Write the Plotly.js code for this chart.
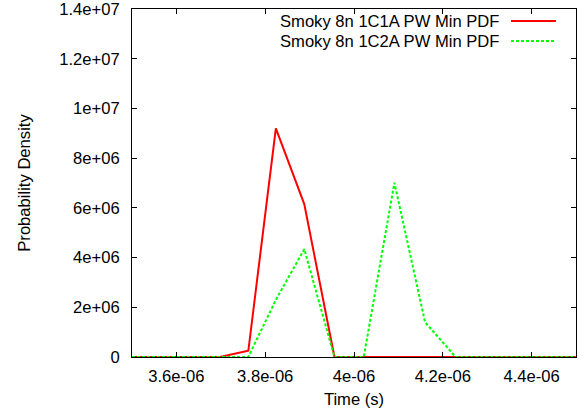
<!DOCTYPE html>
<html>
<head>
<meta charset="utf-8">
<script src="https://cdn.plot.ly/plotly-3.0.1.min.js"></script>
<style>html,body{margin:0;padding:0;background:#fff;}#chart{width:585px;height:416px;}</style>
</head>
<body>
<div id="chart"></div>
<script>
// Series names
var seriesNames = ["Smoky 8n 1C1A PW Min PDF", "Smoky 8n 1C2A PW Min PDF"];
// Red series (1C1A)
var timeA = [3.5e-6, 3.698e-6, 3.762e-6, 3.824e-6, 3.888e-6, 3.956e-6, 4.5e-6];
var densA = [0, 0, 0.25e6, 9.2e6, 6.15e6, 0, 0];
// Green series (1C2A)
var timeB = [3.5e-6, 3.762e-6, 3.824e-6, 3.888e-6, 3.956e-6, 4.022e-6, 4.091e-6, 4.160e-6, 4.229e-6, 4.5e-6];
var densB = [0, 0, 2.3e6, 4.34e6, 0, 0, 7.01e6, 1.4e6, 0, 0];
// Tick labels
var xTickVals = [3.6e-6, 3.8e-6, 4.0e-6, 4.2e-6, 4.4e-6];
var xTickText = ["3.6e-06", "3.8e-06", "4e-06", "4.2e-06", "4.4e-06"];
var yTickVals = [0, 2e6, 4e6, 6e6, 8e6, 10e6, 12e6, 14e6];
var yTickText = ["0", "2e+06", "4e+06", "6e+06", "8e+06", "1e+07", "1.2e+07", "1.4e+07"];

var colors = ["#ff0000", "#00ff00"];
var dashes = ["solid", "3px,2px"];
var font = {family: "Liberation Sans, Arial, sans-serif", size: 16.6, color: "#000"};

var traces = [
  {x: timeA, y: densA, mode: "lines", name: seriesNames[0], line: {color: colors[0], width: 2, dash: dashes[0]}},
  {x: timeB, y: densB, mode: "lines", name: seriesNames[1], line: {color: colors[1], width: 2, dash: dashes[1]}}
];

var legendRowsY = [0.9655, 0.908];
var annotations = seriesNames.map(function(n, i){
  return {xref: "paper", yref: "paper", x: 0.829, y: legendRowsY[i], xanchor: "right", yanchor: "middle",
          text: n, showarrow: false, font: font, borderpad: 0};
});
var shapes = seriesNames.map(function(n, i){
  return {type: "line", xref: "paper", yref: "paper", x0: 0.8536, x1: 0.955, y0: legendRowsY[i], y1: legendRowsY[i],
          line: {color: colors[i], width: 2, dash: dashes[i]}};
});

var layout = {
  width: 585, height: 416,
  margin: {l: 132, r: 9, t: 9, b: 59},
  paper_bgcolor: "#fff", plot_bgcolor: "#fff",
  showlegend: false,
  font: font,
  xaxis: {
    range: [3.5e-6, 4.5e-6],
    tickmode: "array", tickvals: xTickVals, ticktext: xTickText,
    ticks: "inside", ticklen: 5, tickcolor: "#000", tickwidth: 1,
    showline: true, linecolor: "#000", linewidth: 1, mirror: "ticks",
    showgrid: false, zeroline: false,
    ticklabelstandoff: 4, ticklabeloverflow: "allow",
    title: {text: "Time (s)", font: font, standoff: 8}
  },
  yaxis: {
    range: [0, 1.4e7],
    tickmode: "array", tickvals: yTickVals, ticktext: yTickText,
    ticks: "inside", ticklen: 5, tickcolor: "#000", tickwidth: 1,
    showline: true, linecolor: "#000", linewidth: 1, mirror: "ticks",
    showgrid: false, zeroline: false,
    ticklabelstandoff: 8, ticklabeloverflow: "allow",
    title: {text: "Probability Density", font: font, standoff: 24}
  },
  annotations: annotations,
  shapes: shapes
};

Plotly.newPlot("chart", traces, layout, {displayModeBar: false, staticPlot: true});
</script>
</body>
</html>
